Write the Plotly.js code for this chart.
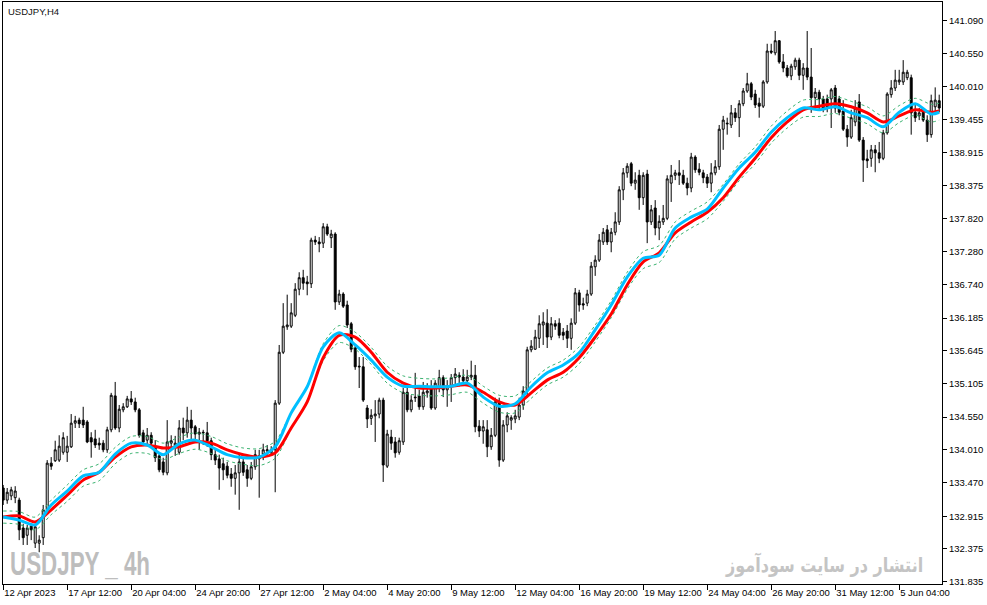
<!DOCTYPE html>
<html>
<head>
<meta charset="utf-8">
<script src="https://cdn.plot.ly/plotly-3.0.1.min.js"></script>
<style>
html,body{margin:0;padding:0;background:#fff;}
#chart{width:987px;height:605px;}
</style>
</head>
<body>
<div id="chart"></div>
<script>
// ---- data (USDJPY, H4) ----
var tickBars = [0,16,32,48,64,80,96,112,128,144,160,176,192,208,224];
var tickLabels = ["12 Apr 2023","17 Apr 12:00","20 Apr 04:00","24 Apr 20:00","27 Apr 12:00","2 May 04:00","4 May 20:00","9 May 12:00","12 May 04:00","16 May 20:00","19 May 12:00","24 May 04:00","26 May 20:00","31 May 12:00","5 Jun 04:00"];
var priceTicks = [141.090,140.550,140.010,139.455,138.915,138.375,137.820,137.280,136.740,136.185,135.645,135.105,134.550,134.010,133.470,132.915,132.375,131.835];
var priceTickText = ["141.090","140.550","140.010","139.455","138.915","138.375","137.820","137.280","136.740","136.185","135.645","135.105","134.550","134.010","133.470","132.915","132.375","131.835"];

var openArr = [
133.38,133.18,133.25,133.22,133.18,132.72,132.60,132.75,132.47,132.47,
132.56,133.02,133.79,133.83,133.84,133.97,133.97,134.06,134.45,134.50,
134.50,134.47,134.21,134.19,134.12,134.12,134.01,134.34,134.90,134.37,
134.67,134.72,134.85,134.80,134.67,134.29,134.17,134.25,134.04,133.91,
133.81,133.63,134.12,134.06,133.97,134.37,134.29,134.50,134.39,134.27,
134.30,134.29,134.16,133.93,133.86,133.78,133.74,133.61,133.54,133.63,
133.81,133.68,133.54,133.73,133.86,133.94,133.99,133.96,134.01,134.78,
135.62,136.04,136.05,136.23,136.66,136.85,136.78,136.75,137.47,137.44,
137.42,137.69,137.51,137.57,136.45,136.58,136.40,136.09,135.69,135.39,
135.38,134.70,134.53,134.57,134.60,134.83,133.74,134.22,134.14,133.97,
134.14,134.96,134.67,134.88,134.90,134.72,134.95,135.03,134.70,135.03,
135.20,135.00,135.05,135.20,135.24,135.21,135.15,135.21,135.24,134.40,
134.32,134.34,134.06,134.25,134.80,133.84,134.42,134.50,134.52,134.55,
134.75,134.98,135.66,135.67,135.85,136.07,136.10,135.87,136.09,136.10,
135.95,135.97,135.85,136.10,136.60,136.42,136.43,136.58,137.03,137.14,
137.44,137.64,137.44,137.60,137.77,138.30,138.58,138.73,138.41,138.54,
138.17,138.56,137.77,138.00,137.67,137.77,137.83,138.41,138.54,138.58,
138.54,138.41,138.33,138.84,138.64,138.58,138.51,138.41,138.58,138.68,
139.30,139.40,139.37,139.57,139.49,139.72,139.93,140.05,139.88,139.73,
139.68,140.08,140.59,140.56,140.76,140.41,140.31,140.18,140.33,140.44,
140.19,140.31,140.16,139.82,139.91,139.80,139.80,139.80,139.98,139.80,
139.60,139.30,139.17,139.42,139.75,139.12,138.81,138.82,138.96,138.91,
138.82,139.24,139.87,139.98,140.08,140.08,140.15,140.15,139.58,139.52,
139.58,139.45,139.21,139.67,139.77];

var highArr = [
133.43,133.38,133.40,133.41,133.22,132.79,132.77,132.77,132.79,132.60,
133.10,133.84,133.89,134.16,134.25,134.30,134.24,134.60,134.57,134.54,
134.72,134.50,134.30,134.34,134.21,134.17,134.39,134.95,135.13,134.75,
134.78,134.90,134.98,134.87,134.70,134.34,134.37,134.30,134.17,133.97,
133.88,134.50,134.25,134.24,134.50,134.54,134.72,134.67,134.42,134.37,
134.34,134.47,134.21,134.01,133.93,133.88,133.81,133.71,133.76,133.93,
133.88,133.76,133.81,134.01,134.01,134.11,134.09,134.07,134.83,135.74,
136.43,136.57,136.43,136.76,136.94,136.98,136.88,137.51,137.54,137.52,
137.75,137.74,137.64,137.60,136.65,136.61,136.47,136.12,135.74,135.54,
135.54,134.75,134.68,134.83,134.87,134.87,134.34,134.34,134.22,134.21,
135.03,135.05,134.91,135.28,135.00,135.13,135.11,135.16,135.16,135.33,
135.24,135.16,135.26,135.36,135.29,135.34,135.33,135.48,135.41,134.50,
134.50,134.50,134.37,134.87,134.87,134.50,134.63,134.58,134.67,134.87,
135.06,135.71,135.82,135.99,136.23,136.28,136.33,136.20,136.15,136.18,
136.02,136.07,136.18,136.68,136.65,136.52,136.65,137.11,137.22,137.57,
137.67,137.72,137.67,137.93,138.36,138.66,138.74,138.76,138.59,138.63,
138.59,138.63,138.05,138.13,137.88,138.05,138.54,138.71,138.63,138.79,
138.63,138.50,138.91,138.87,138.74,138.63,138.56,138.74,138.79,139.37,
139.52,139.49,139.70,139.65,139.78,139.98,140.23,140.08,139.95,139.82,
140.11,140.71,140.71,140.92,140.77,140.54,140.36,140.38,140.48,140.48,
140.39,140.92,140.64,139.98,139.95,139.85,139.87,139.98,140.03,139.85,
139.78,139.37,139.62,139.78,139.88,139.17,138.96,139.04,139.04,139.09,
139.29,139.91,140.11,140.28,140.28,140.44,140.28,140.20,139.70,139.65,
139.65,139.53,139.87,139.99,139.87];

var lowArr = [
133.10,133.12,133.18,133.13,132.52,132.44,132.44,132.52,132.39,132.32,
132.44,132.98,133.68,133.81,133.81,133.93,133.81,134.04,134.37,134.37,
134.37,134.12,133.88,134.04,134.01,133.97,133.96,134.30,134.34,134.30,
134.63,134.70,134.75,134.63,134.21,134.09,134.09,134.07,133.81,133.64,
133.59,133.59,134.04,133.91,133.93,134.17,134.21,134.17,134.17,134.01,
134.09,134.06,133.84,133.76,133.35,133.51,133.54,133.40,133.27,133.02,
133.58,133.40,133.51,133.68,133.22,133.84,133.91,133.91,133.31,134.75,
135.59,135.99,136.02,136.20,136.56,136.65,136.56,136.68,137.39,137.27,
137.34,137.54,137.34,136.32,136.40,136.35,136.02,135.62,135.33,135.03,
134.80,134.37,134.42,134.14,134.53,133.48,133.71,134.01,133.88,133.93,
134.09,134.63,134.63,134.80,134.67,134.67,134.87,134.67,134.67,134.96,
134.88,134.72,134.80,135.08,135.06,135.10,135.08,135.16,134.30,134.22,
134.11,133.89,134.01,134.22,133.73,133.81,134.30,134.34,134.45,134.50,
134.67,134.87,135.62,135.66,135.69,135.74,135.69,135.82,135.99,135.85,
135.82,135.69,135.66,136.07,136.29,136.32,136.38,136.55,136.88,137.11,
137.39,137.39,137.27,137.55,137.72,138.13,138.50,138.36,138.30,137.97,
138.05,137.42,137.72,137.55,137.47,137.72,137.80,138.10,138.46,138.38,
138.38,138.21,138.26,138.58,138.54,138.41,138.33,138.26,138.54,138.63,
138.96,139.21,139.32,139.42,139.17,139.68,139.90,139.78,139.65,139.49,
139.65,140.05,140.54,140.52,140.38,140.24,140.15,140.11,140.28,140.11,
139.95,140.11,139.57,139.62,139.62,139.58,139.58,139.32,139.57,139.53,
139.27,139.01,139.14,139.35,139.09,138.43,138.66,138.68,138.59,138.74,
138.79,139.21,139.82,139.93,140.03,140.03,140.11,139.21,139.42,139.45,
139.42,139.09,139.16,139.58,139.58];

var closeArr = [
133.18,133.31,133.35,133.33,132.69,132.56,132.72,132.69,132.74,132.52,
133.02,133.79,133.74,134.01,134.07,134.21,134.07,134.45,134.49,134.44,
134.42,134.14,134.14,134.09,134.09,134.01,134.34,134.91,134.37,134.68,
134.72,134.85,134.80,134.67,134.25,134.14,134.25,134.12,133.88,133.68,
133.64,134.14,134.16,134.12,134.37,134.29,134.50,134.37,134.27,134.30,
134.29,134.16,133.93,133.84,133.71,133.68,133.59,133.54,133.63,133.81,
133.64,133.54,133.73,133.93,133.91,134.01,134.01,134.01,134.78,135.62,
136.05,136.07,136.27,136.66,136.85,136.76,136.75,137.47,137.44,137.41,
137.69,137.57,137.57,136.45,136.58,136.38,136.07,135.67,135.38,135.38,
134.83,134.52,134.58,134.60,134.83,133.76,134.27,134.12,133.96,134.16,
134.96,134.67,134.83,134.87,134.72,134.96,134.98,134.70,135.11,135.20,
135.00,135.05,135.20,135.26,135.21,135.15,135.21,135.24,134.39,134.32,
134.39,134.06,134.25,134.80,133.84,134.42,134.57,134.54,134.57,134.75,
134.98,135.66,135.72,135.87,136.09,136.12,135.87,136.09,136.05,135.90,
135.90,135.85,136.10,136.60,136.40,136.40,136.58,137.04,137.14,137.47,
137.60,137.44,137.60,137.77,138.30,138.58,138.69,138.41,138.46,138.17,
138.54,137.77,137.97,137.67,137.78,137.83,138.48,138.54,138.58,138.54,
138.41,138.33,138.84,138.63,138.59,138.50,138.41,138.58,138.68,139.30,
139.45,139.39,139.57,139.49,139.72,139.93,140.05,139.83,139.70,139.68,
140.08,140.59,140.57,140.76,140.41,140.31,140.18,140.34,140.44,140.19,
140.31,140.16,139.82,139.91,139.80,139.65,139.67,139.95,139.65,139.58,
139.30,139.17,139.49,139.65,139.12,138.79,138.78,138.96,138.91,138.82,
139.24,139.88,139.98,140.11,140.11,140.24,140.24,139.57,139.49,139.57,
139.45,139.21,139.77,139.78,139.65];

// moving averages and envelope, read at every 4th bar
var maBars = [0,4,8,12,16,20,24,28,32,36,40,44,48,52,56,60,64,68,72,76,80,84,88,92,96,100,104,108,112,116,120,124,128,132,136,140,144,148,152,156,160,164,168,172,176,180,184,188,192,196,200,204,208,212,216,220,224,228,232,234];
var maRed = [132.90,132.92,132.82,133.02,133.26,133.51,133.64,133.89,134.06,134.09,134.04,134.06,134.14,134.12,134.01,133.93,133.89,133.96,134.37,134.80,135.53,135.90,135.87,135.62,135.29,135.11,135.03,135.03,135.06,135.08,134.96,134.80,134.75,134.95,135.16,135.29,135.53,135.87,136.25,136.73,137.11,137.26,137.59,137.77,137.93,138.17,138.51,138.82,139.16,139.42,139.62,139.68,139.72,139.67,139.57,139.42,139.52,139.62,139.58,139.60];
var maBlue = [132.90,132.85,132.77,133.10,133.33,133.58,133.64,133.94,134.12,134.09,133.93,134.11,134.17,134.06,133.93,133.88,133.89,134.06,134.62,135.05,135.71,135.94,135.74,135.49,135.21,135.06,135.06,135.05,135.06,135.11,134.88,134.73,134.77,135.05,135.28,135.41,135.61,135.99,136.40,136.86,137.17,137.22,137.67,137.85,137.98,138.33,138.66,138.92,139.25,139.49,139.65,139.62,139.67,139.57,139.49,139.34,139.58,139.72,139.55,139.58];
var envUpper = [133.00,132.99,132.90,133.18,133.43,133.68,133.78,134.05,134.23,134.23,134.12,134.22,134.29,134.23,134.11,134.04,134.03,134.15,134.63,135.07,135.76,136.06,135.95,135.70,135.39,135.23,135.19,135.18,135.20,135.24,135.06,134.91,134.90,135.14,135.36,135.49,135.71,136.07,136.47,136.94,137.28,137.38,137.77,137.95,138.10,138.39,138.73,139.01,139.35,139.60,139.78,139.79,139.84,139.76,139.67,139.52,139.69,139.81,139.71,139.73];
var envLower = [132.80,132.78,132.69,132.94,133.16,133.41,133.50,133.78,133.95,133.95,133.85,133.95,134.02,133.95,133.83,133.77,133.75,133.87,134.36,134.79,135.48,135.78,135.67,135.42,135.11,134.95,134.91,134.90,134.92,134.96,134.78,134.63,134.62,134.86,135.08,135.21,135.43,135.79,136.19,136.66,137.00,137.10,137.49,137.67,137.82,138.11,138.45,138.73,139.07,139.32,139.50,139.51,139.56,139.48,139.39,139.24,139.41,139.53,139.42,139.45];

var barIdx = [];
for (var i = 0; i < openArr.length; i++) barIdx.push(i);

// ---- traces ----
var candles = {
  type: 'candlestick',
  x: barIdx, open: openArr, high: highArr, low: lowArr, close: closeArr,
  increasing: {line: {color: '#000000', width: 1}, fillcolor: '#ffffff'},
  decreasing: {line: {color: '#000000', width: 1}, fillcolor: '#000000'},
  whiskerwidth: 0,
  hoverinfo: 'skip',
  showlegend: false
};
function envTrace(vals) {
  return {type: 'scatter', mode: 'lines', x: maBars, y: vals,
    line: {color: '#3cb371', width: 1, dash: '3px,3px', shape: 'spline', smoothing: 0.8},
    hoverinfo: 'skip', showlegend: false};
}
var red = {type: 'scatter', mode: 'lines', x: maBars, y: maRed,
  line: {color: '#ff0000', width: 3, shape: 'spline', smoothing: 0.8}, hoverinfo: 'skip', showlegend: false};
var blue = {type: 'scatter', mode: 'lines', x: maBars, y: maBlue,
  line: {color: '#00bfff', width: 3, shape: 'spline', smoothing: 0.8}, hoverinfo: 'skip', showlegend: false};

var layout = {
  width: 987, height: 605,
  margin: {l: 3, r: 45, t: 2, b: 21, pad: 0},
  paper_bgcolor: '#ffffff', plot_bgcolor: '#ffffff',
  showlegend: false,
  font: {family: 'Liberation Sans, Arial, sans-serif', color: '#000000'},
  xaxis: {
    type: 'linear', range: [-0.05, 234.7],
    tickmode: 'array', tickvals: tickBars, ticktext: tickLabels,
    tickangle: 0,
    ticks: 'outside', ticklen: 5, tickwidth: 1, tickcolor: '#000',
    ticklabelposition: 'outside right',
    tickfont: {size: 9.5, family: 'Liberation Sans, Arial, sans-serif', color: '#000'},
    showline: true, mirror: true, linecolor: '#000', linewidth: 1,
    showgrid: false, zeroline: false, fixedrange: true,
    rangeslider: {visible: false}
  },
  yaxis: {
    side: 'right', range: [131.796, 141.399],
    tickmode: 'array', tickvals: priceTicks, ticktext: priceTickText,
    ticks: 'outside', ticklen: 4, tickwidth: 1, tickcolor: '#000',
    tickfont: {size: 9.5, family: 'Liberation Sans, Arial, sans-serif', color: '#000'},
    showline: true, mirror: true, linecolor: '#000', linewidth: 1,
    showgrid: false, zeroline: false, fixedrange: true
  },
  annotations: [
    {text: 'USDJPY,H4', xref: 'paper', yref: 'paper', x: 0, y: 1, xanchor: 'left', yanchor: 'top',
     xshift: 3, yshift: -2, showarrow: false,
     font: {size: 9.5, family: 'Liberation Sans, Arial, sans-serif', color: '#111'}},
    {text: 'USDJPY _ 4h', xref: 'paper', yref: 'paper', x: 0, y: 0, xanchor: 'left', yanchor: 'bottom',
     xshift: 5, yshift: 0, showarrow: false,
     font: {size: 34, family: 'Liberation Sans, Arial, sans-serif', color: '#bdbdbd', weight: 'bold'}},
    {text: 'انتشار در سایت سودآموز', xref: 'paper', yref: 'paper', x: 0.982, y: 0.034, xanchor: 'right', yanchor: 'middle',
     showarrow: false,
     font: {size: 20, family: 'DejaVu Sans, sans-serif', color: '#c4c4c4', weight: 'bold'}}
  ]
};

Plotly.newPlot('chart', [candles, envTrace(envUpper), envTrace(envLower), red, blue], layout,
  {staticPlot: true, displayModeBar: false}).then(function (gd) {
  // condense the watermark texts horizontally to the reference widths
  var texts = gd.querySelectorAll('g.annotation text.annotation-text');
  texts.forEach(function (t) {
    var bb = t.getBBox();
    var s, ax;
    if (t.textContent.indexOf('4h') >= 0) { s = 140 / bb.width; ax = bb.x; }
    else if (t.textContent.indexOf('سایت') >= 0) { s = 198 / bb.width; ax = bb.x + bb.width; }
    else return;
    t.setAttribute('transform', 'translate(' + ax + ',0) scale(' + s + ',1) translate(' + (-ax) + ',0)');
  });
});
</script>
</body>
</html>
